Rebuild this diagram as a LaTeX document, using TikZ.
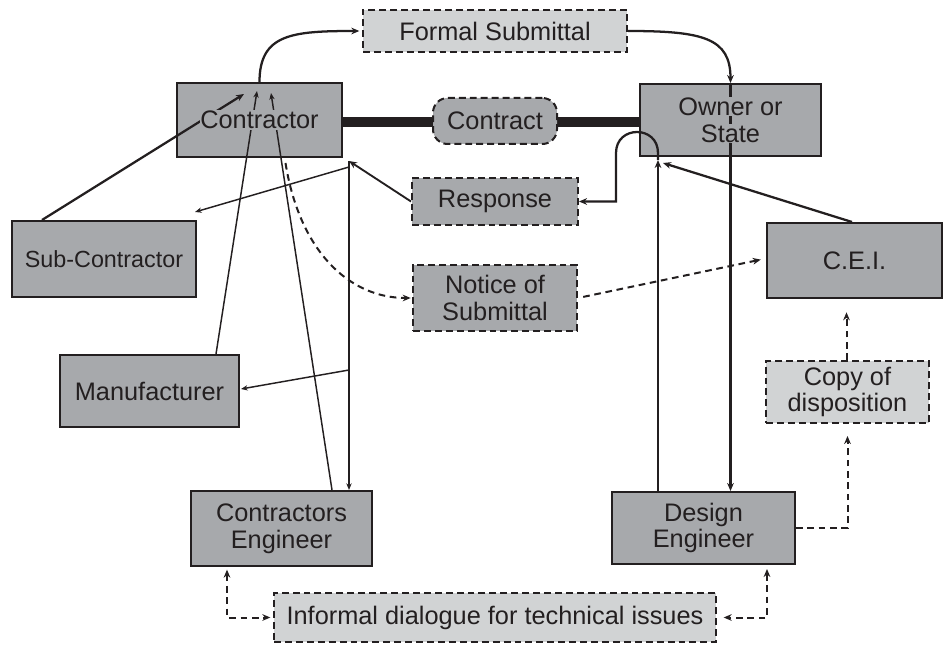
\documentclass[tikz,border=0pt]{standalone}
\usepackage{fontspec}
\setmainfont{Liberation Sans}
\usepackage{tikz}
\usetikzlibrary{calc}
\usetikzlibrary{arrows.meta}
\definecolor{ink}{HTML}{231F20}
\definecolor{boxgray}{HTML}{A7A9AC}
\definecolor{palegray}{HTML}{D1D3D4}
\tikzset{
	% Box styles: solid for the parties, dashed for the documents
	solid box/.style={draw=ink,line width=1.5pt,fill=boxgray,inner sep=0,align=center},
	dashed box/.style={solid box,dash pattern=on 5.2pt off 3pt},
	pale box/.style={dashed box,fill=palegray},
	size/.style 2 args={minimum width=#1*0.75pt,minimum height=#2*0.75pt},
	box text/.style={inner sep=0,align=center},
	% Connector styles
	flow/.style={draw=ink,line width=1.7pt,-{Stealth[length=6pt,width=5pt]}},
	thin flow/.style={draw=ink,line width=1.1pt,-{Stealth[length=5pt,width=4pt]}},
	dashed flow/.style={flow,line width=1.5pt,dash pattern=on 5pt off 3.5pt}
}

\begin{document}
\begin{tikzpicture}[x=0.75pt,y=-0.75pt,font=\fontsize{19}{20}\selectfont,text=ink]
	% macro for labels that sit over the connectors
	\newcommand{\masked}[1]{{\setlength{\fboxsep}{0.6pt}\colorbox{boxgray}{#1}}}
	\useasboundingbox (0,0) rectangle (943,645);
	
	% parties
	\node(contractor)[solid box,size={165}{74}] at (259.5,120){};
	\node(owner)[solid box,size={181}{72}] at (730.5,120){};
	\node(sub)[solid box,size={184}{76},font=\fontsize{17.5}{20}\selectfont] at (104,259){Sub-Contractor};
	\node(manu)[solid box,size={179}{72}] at (149.5,391){Manufacturer};
	\node(cei)[solid box,size={175}{75}] at (854.5,260.5){C.E.I.};
	\node(ce)[solid box,size={181}{75}] at (281.5,528.5){Contractors\\Engineer};
	\node(de)[solid box,size={183}{72}] at (703.5,528){Design\\Engineer};
	
	% contract
	\draw[ink,line width=7.5pt] ($(contractor.east)+(0,2)$) -- ($(contractor.east -| owner.west)+(0,2)$);
	\node(contract)[dashed box,size={124}{46},rounded corners=11pt] at (495,121){Contract};
	
	% documents
	\node(formal)[pale box,size={264}{42}] at (495,31){Formal Submittal};
	\node(response)[dashed box,size={166}{47}] at (495,201.5){Response};
	\node(notice)[dashed box,size={164}{66}] at (495,298){Notice of\\Submittal};
	\node(copy)[pale box,size={163}{62}] at (847.5,392){Copy of\\disposition};
	\node(informal)[pale box,size={442}{49}] at (495,617.5){Informal dialogue for technical issues};
	
	% formal submittal route
	\draw[flow,shorten >=2pt] (contractor.north) .. controls ($(contractor.north)+(0,-48)$) and ($(formal.west)+(-70,0)$) .. (formal.west);
	\draw[flow] (formal.east) .. controls ($(formal.east)+(75,0)$) and ($(owner.north)+(0,-45)$) .. (owner.north);
	\draw[flow] (owner.north) -- (owner.north |- de.north);
	
	% owner back to response
	\coordinate (de in) at ($(owner.south west)+(19,3)$);
	\coordinate (loop r) at ($(de in)+(0,-7)$);
	\coordinate (loop l) at ($(loop r)+(-42,0)$);
	\draw[flow] (de in |- de.north) -- (de in);
	\draw[flow] (de in) -- (loop r) .. controls ($(loop r)+(0,-28)$) and ($(loop l)+(0,-28)$) .. (loop l) -- (loop l |- response.east) -- (response.east);
	\draw[flow] ($(cei.north west)+(86,0)$) -- ($(owner.south west)+(24,6)$);
	
	% response handed down by the contractor
	\coordinate (hub) at ($(contractor.south east)+(6,3)$);
	\draw[flow,line width=1.4pt] (response.west) -- (hub);
	\draw[thin flow] (hub) -- (hub |- ce.north);
	\draw[thin flow] ($(hub)+(0,6)$) -- ($(sub.north east)+(-2,-8)$);
	\draw[thin flow] ($(hub)+(0,209)$) -- ($(manu.east)+(1,-2)$);
	
	% submittals into the contractor
	\draw[flow] ($(sub.north west)+(31,0)$) -- ($(contractor.north west)+(68,12)$);
	\draw[thin flow] ($(manu.north west)+(157,0)$) -- ($(contractor.north west)+(81,9)$);
	\draw[thin flow] ($(ce.north west)+(142,0)$) -- ($(contractor.north west)+(95,11)$);
	
	% dashed notices
	\draw[dashed flow,shorten >=1pt] ($(contractor.south)+(26,5)$) .. controls ($(contractor.south)+(40,93)$) and ($(notice.west)+(-63,0)$) .. (notice.west);
	\draw[dashed flow,shorten <=4pt,shorten >=4pt] (notice.east) -- ($(cei.west)+(0,-2)$);
	\draw[dashed flow,shorten >=10pt] ($(copy.north)+(-1,0)$) -- ($(copy.north |- cei.south)+(-1,0)$);
	\draw[dashed flow,shorten >=9pt] (de.east) -| (copy.south);
	\draw[dashed flow,{Stealth[length=6pt,width=5pt]}-{Stealth[length=6pt,width=5pt]},shorten <=2pt,shorten >=2pt] ($(ce.south west)+(37,0)$) |- (informal.west);
	\draw[dashed flow,{Stealth[length=6pt,width=5pt]}-{Stealth[length=6pt,width=5pt]},shorten <=3pt,shorten >=5pt] ($(de.south east)+(-29,0)$) |- (informal.east);
	
	% labels over the connectors
	\node[box text] at (contractor){\masked{Contractor}};
	\node[box text] at (owner){\masked{Owner or}\\\masked{State}};
\end{tikzpicture}
\end{document}
